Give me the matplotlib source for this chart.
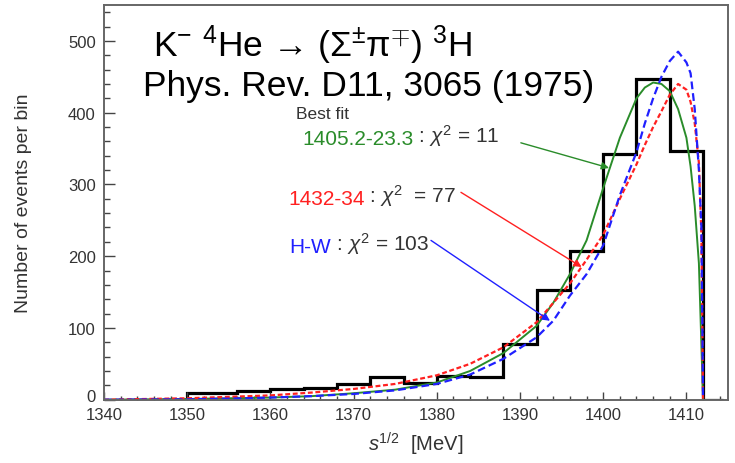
import numpy as np
import matplotlib
matplotlib.use('Agg')
import matplotlib.pyplot as plt
from matplotlib.ticker import MultipleLocator, FuncFormatter

plt.rcParams['font.family'] = ['Liberation Sans', 'DejaVu Sans']
plt.rcParams['mathtext.fontset'] = 'custom'
plt.rcParams['mathtext.rm'] = 'Liberation Sans'
plt.rcParams['mathtext.it'] = 'Liberation Sans:italic'

### DATA
# histogram (bin edges in MeV, counts per bin)
binEdges = [1350, 1356, 1360, 1364, 1368, 1372, 1376, 1380, 1384, 1388,
            1392, 1396, 1400, 1404, 1408, 1412, 1414.4]
counts = [10, 12, 15, 17, 22, 31, 23, 33, 32, 77, 153, 207, 343, 447, 346, 0]

# fit curves
xGreen = [1340, 1350, 1355, 1360, 1365, 1370, 1375, 1380, 1384, 1388, 1392,
          1394, 1396, 1398, 1400, 1402, 1404, 1405, 1406, 1407, 1408, 1409,
          1410, 1410.5, 1411, 1411.5, 1412]
yGreen = [0, 1, 2, 3, 5, 9, 14, 24, 40, 65, 103, 135, 175, 222, 295, 365,
          420, 435, 442, 440, 430, 405, 365, 325, 270, 190, 0]

xRed = [1340, 1350, 1355, 1360, 1365, 1370, 1375, 1380, 1384, 1388, 1392,
        1394, 1396, 1398, 1400, 1402, 1404, 1405, 1406, 1407, 1408, 1409,
        1410, 1410.5, 1411, 1411.5, 1411.8, 1412]
yRed = [0, 2, 4, 6, 10, 15, 22, 34, 50, 73, 108, 135, 162, 195, 230, 280,
        328, 355, 380, 402, 425, 440, 432, 415, 385, 330, 230, 0]

xBlue = [1340, 1350, 1355, 1360, 1365, 1370, 1375, 1380, 1384, 1388, 1392,
         1394, 1396, 1398, 1400, 1402, 1404, 1405, 1406, 1407, 1408, 1409,
         1410, 1410.5, 1411, 1411.5, 1411.8, 1412]
yBlue = [0, 0.5, 1.5, 3, 5, 8, 13, 22, 35, 57, 87, 110, 145, 175, 215, 285,
         345, 385, 420, 450, 472, 485, 470, 455, 405, 320, 240, 0]

green = '#2a8c2a'
red = '#ff2020'
blue = '#2020ff'
grey = '#333333'

### PLOT
fig = plt.figure(figsize=(7.35, 4.64), dpi=100)
ax = fig.add_axes([0.1415, 0.1364, 0.849, 0.8506])

ax.stairs(counts, binEdges, color='black', lw=2.3)
ax.plot(xGreen, yGreen, c=green, lw=1.4)
ax.plot(xRed, yRed, c=red, lw=1.6, dashes=(2.2, 1.2))
ax.plot(xBlue, yBlue, c=blue, lw=1.6, dashes=(3.5, 1.8))

ax.set_xlim(1340, 1415)
ax.set_ylim(0, 550)

ax.xaxis.set_major_locator(MultipleLocator(10))
ax.xaxis.set_minor_locator(MultipleLocator(2))
ax.yaxis.set_major_locator(MultipleLocator(100))
ax.yaxis.set_minor_locator(MultipleLocator(20))
# the "0" label is drawn separately, a bit higher, so it clears "1340"
ax.yaxis.set_major_formatter(FuncFormatter(lambda v, p: '' if v == 0 else '%d' % v))
ax.tick_params(axis='x', which='major', direction='in', length=5.5, width=1, color='#444444',
               labelsize=12, labelcolor=grey, pad=5)
ax.tick_params(axis='x', which='minor', direction='in', length=3, width=1, color='#444444')
ax.tick_params(axis='y', which='major', direction='in', length=8, width=1, color='#444444',
               labelsize=12, labelcolor=grey, pad=6)
ax.tick_params(axis='y', which='minor', direction='in', length=4.5, width=1, color='#444444')
for sp in ax.spines.values():
    sp.set_color('#666666')
    sp.set_linewidth(1.4)
ax.annotate('0', xy=(0, 0), xycoords=('axes fraction', 'data'), xytext=(-6, 2.5),
            textcoords='offset points', ha='right', va='center', fontsize=12, color=grey)

ax.set_ylabel('Number of events per bin', fontsize=14, color=grey)
ax.yaxis.set_label_coords(-0.115, 0.5)
ax.set_xlabel(r'$s^{1/2}$  [MeV]', fontsize=14.5, color=grey, labelpad=6)

# title text
ax.text(1345.9, 479, r'K$^{-}$ $^{4}$He → (Σ$^{\pm}$π$^{\mp}$) $^{3}$H',
        fontsize=25.5, va='baseline')
ax.text(1344.7, 425, 'Phys. Rev. D11, 3065 (1975)', fontsize=25.5, va='baseline')

# labels and arrows
ax.text(1363.1, 393, 'Best fit', fontsize=12.5, color=grey, va='baseline')
labels = [('1405.2-23.3', r' : $\chi^{2}$ = 11', green, 1363.8, 356.6),
          ('1432-34', r' : $\chi^{2}$  = 77', red, 1362.1, 273),
          ('H-W', r' : $\chi^{2}$ = 103', blue, 1362.3, 206.4)]
for lab, chi, col, tx, ty in labels:
    t = ax.text(tx, ty, lab, fontsize=15, color=col, va='baseline')
    ax.annotate(chi, xy=(1, 0), xycoords=t, fontsize=15, color=grey, va='bottom')

arrows = [(green, (1390.1, 358), (1400.7, 323)),
          (red, (1382.9, 289), (1397.4, 185)),
          (blue, (1379.3, 222), (1393.6, 110))]
for col, start, end in arrows:
    ax.annotate('', xy=end, xytext=start,
                arrowprops=dict(arrowstyle='-|>', color=col, lw=1, mutation_scale=11,
                                shrinkA=0, shrinkB=0))

plt.savefig('out.png', dpi=100)
